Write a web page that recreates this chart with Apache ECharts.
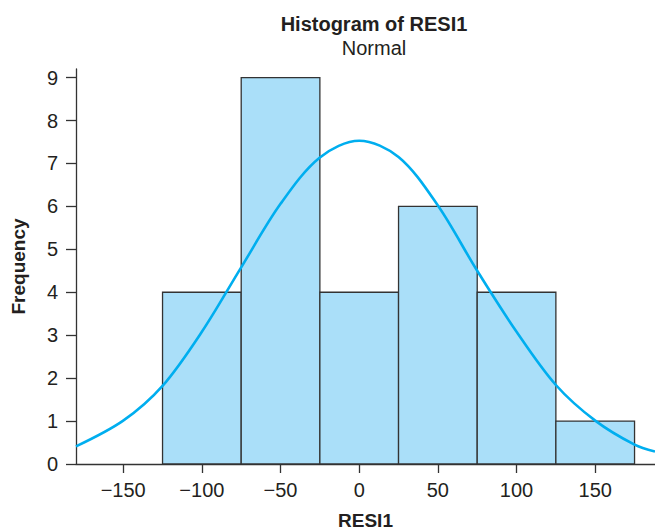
<!DOCTYPE html>
<html>
<head>
<meta charset="utf-8">
<style>
  html, body { margin: 0; padding: 0; background: #fff; }
  #container { width: 655px; height: 532px; }
</style>
<script src="https://cdn.jsdelivr.net/npm/echarts@6/dist/echarts.min.js"></script>
</head>
<body>
<div id="container"></div>
<script>
// histogram bins (left edge of each bin), bin width and counts
var binStarts = [-125, -75, -25, 25, 75, 125];
var binWidth = 50;
var counts = [4, 9, 4, 6, 4, 1];

// fitted normal curve
var curveX = [-180, -150, -125, -100, -75, -50, -25, 0, 25, 50, 75, 100, 125, 150, 175, 188];
var curveY = [0.41, 1.01, 1.82, 3.08, 4.58, 6.06, 7.14, 7.53, 7.15, 6.02, 4.50, 3.08, 1.84, 1.01, 0.45, 0.29];

// tick labels
var xTicks = [-150, -100, -50, 0, 50, 100, 150];
var yTicks = [0, 1, 2, 3, 4, 5, 6, 7, 8, 9];

var textColor = "#231f20";
var axisColor = "#333";
var font = "'Liberation Sans', Arial, sans-serif";

var dom = document.getElementById("container");
var myChart = echarts.init(dom, null, { renderer: "svg" });

var bars = binStarts.map(function (s, i) {
  return [s, s + binWidth, counts[i]];
});
var curve = curveX.map(function (x, i) {
  return [x, curveY[i]];
});

var option = {
  animation: false,
  title: {
    text: "Histogram of RESI1",
    subtext: "Normal",
    left: 369,
    top: 9,
    textAlign: "center",
    itemGap: 4,
    textStyle: { fontFamily: font, fontSize: 20, fontWeight: "bold", color: textColor },
    subtextStyle: { fontFamily: font, fontSize: 20, color: textColor },
  },
  grid: {
    left: 76,
    right: 0,
    top: 69,
    bottom: 68,
    outerBoundsMode: "none",
    containLabel: false,
  },
  xAxis: {
    type: "value",
    min: -180,
    max: 188,
    name: "RESI1",
    nameLocation: "middle",
    nameGap: 47,
    nameTextStyle: { fontFamily: font, fontSize: 19, fontWeight: "bold", color: textColor },
    axisLine: { onZero: false, lineStyle: { color: axisColor, width: 1.3 } },
    axisTick: { show: true, length: 9, customValues: xTicks, lineStyle: { color: axisColor, width: 1.3 } },
    axisLabel: {
      customValues: xTicks,
      margin: 16,
      fontFamily: font,
      fontSize: 20,
      color: textColor,
      formatter: function (v) {
        return v < 0 ? "\u2212" + Math.abs(v) : String(v);
      },
    },
    splitLine: { show: false },
  },
  yAxis: {
    type: "value",
    min: 0,
    max: 9.2,
    name: "Frequency",
    nameLocation: "middle",
    nameGap: 48,
    nameTextStyle: { fontFamily: font, fontSize: 19, fontWeight: "bold", color: textColor },
    axisLine: { show: true, onZero: false, lineStyle: { color: axisColor, width: 1.3 } },
    axisTick: { show: true, length: 10, customValues: yTicks, lineStyle: { color: axisColor, width: 1.3 } },
    axisLabel: { customValues: yTicks, margin: 18, fontFamily: font, fontSize: 20, color: textColor },
    splitLine: { show: false },
  },
  series: [
    {
      type: "custom",
      data: bars,
      encode: { x: [0, 1], y: 2 },
      renderItem: function (params, api) {
        var p0 = api.coord([api.value(0), 0]);
        var p1 = api.coord([api.value(1), api.value(2)]);
        return {
          type: "rect",
          shape: { x: p0[0], y: p1[1], width: p1[0] - p0[0], height: p0[1] - p1[1] },
          style: { fill: "#aadff9", stroke: "#333", lineWidth: 1.3 },
        };
      },
      z: 2,
    },
    {
      type: "line",
      data: curve,
      smooth: 0.33,
      showSymbol: false,
      lineStyle: { color: "#00aeef", width: 2.6 },
      z: 3,
    },
  ],
};

myChart.setOption(option);

window.addEventListener("resize", myChart.resize);
</script>
</body>
</html>
